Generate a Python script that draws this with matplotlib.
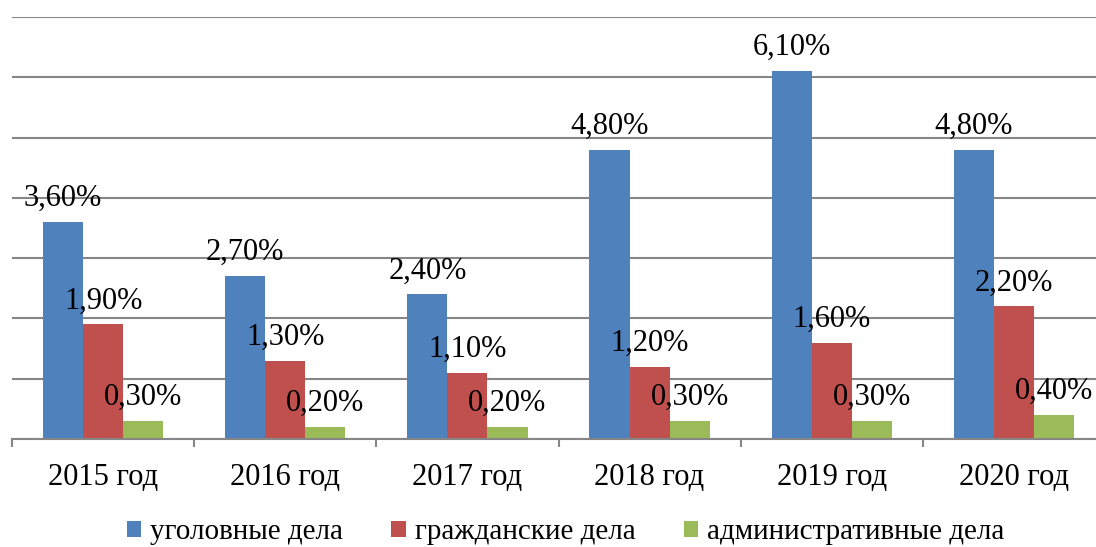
import matplotlib
matplotlib.use("Agg")
import matplotlib.pyplot as plt
import numpy as np

years = ["2015 год", "2016 год", "2017 год", "2018 год", "2019 год", "2020 год"]
series_names = ["уголовные дела", "гражданские дела", "административные дела"]
criminal = [3.6, 2.7, 2.4, 4.8, 6.1, 4.8]
civil = [1.9, 1.3, 1.1, 1.2, 1.6, 2.2]
admin = [0.3, 0.2, 0.2, 0.3, 0.3, 0.4]
colors = ["#4F81BD", "#C0504D", "#9BBB59"]

plt.rcParams['font.family'] = ['Liberation Serif', 'DejaVu Serif']

fig = plt.figure(figsize=(10.96, 5.47), dpi=100)
ax = fig.add_axes([12/1096, (547-439)/547, (1105-12)/1096, (439-17)/547])

x = np.arange(len(years))
w = 0.22
handles = []
for i, (vals, col, name) in enumerate(zip([criminal, civil, admin], colors, series_names)):
    pos = x + (i - 1) * w
    b = ax.bar(pos, vals, width=w, color=col, label=name, zorder=3)
    handles.append(b)
    for p, v in zip(pos, vals):
        ax.annotate(f"{v:.2f}%".replace('.', ','), (p, v), xytext=(0, 11.5),
                    textcoords='offset points', ha='center', va='baseline',
                    fontsize=22, zorder=4)

ax.set_xlim(-0.5, 5.5)
ax.set_ylim(0, 7)
ax.set_yticks(np.arange(0, 8, 1))
ax.yaxis.grid(True, color='#868686', linewidth=1.5, zorder=0)
ax.tick_params(axis='y', left=False, labelleft=False)
for s in ['top', 'right', 'left']:
    ax.spines[s].set_visible(False)
ax.spines['bottom'].set_color('#868686')
ax.spines['bottom'].set_linewidth(1.5)
ax.spines['bottom'].set_zorder(5)

ax.set_xticks(x)
ax.set_xticklabels(years, fontsize=22)
ax.set_xticks(np.arange(-0.5, 6, 1), minor=True)
ax.tick_params(axis='x', which='major', length=0, pad=17)
ax.tick_params(axis='x', which='minor', length=6, width=1.5, color='#868686', direction='out')

fig.legend(handles=handles, labels=series_names, loc='center', bbox_to_anchor=(0.516, 0.027),
           ncol=3, frameon=False, fontsize=21, handlelength=0.5, handleheight=0.5,
           handletextpad=0.3, columnspacing=1.65)

fig.savefig("out.png", dpi=100)
